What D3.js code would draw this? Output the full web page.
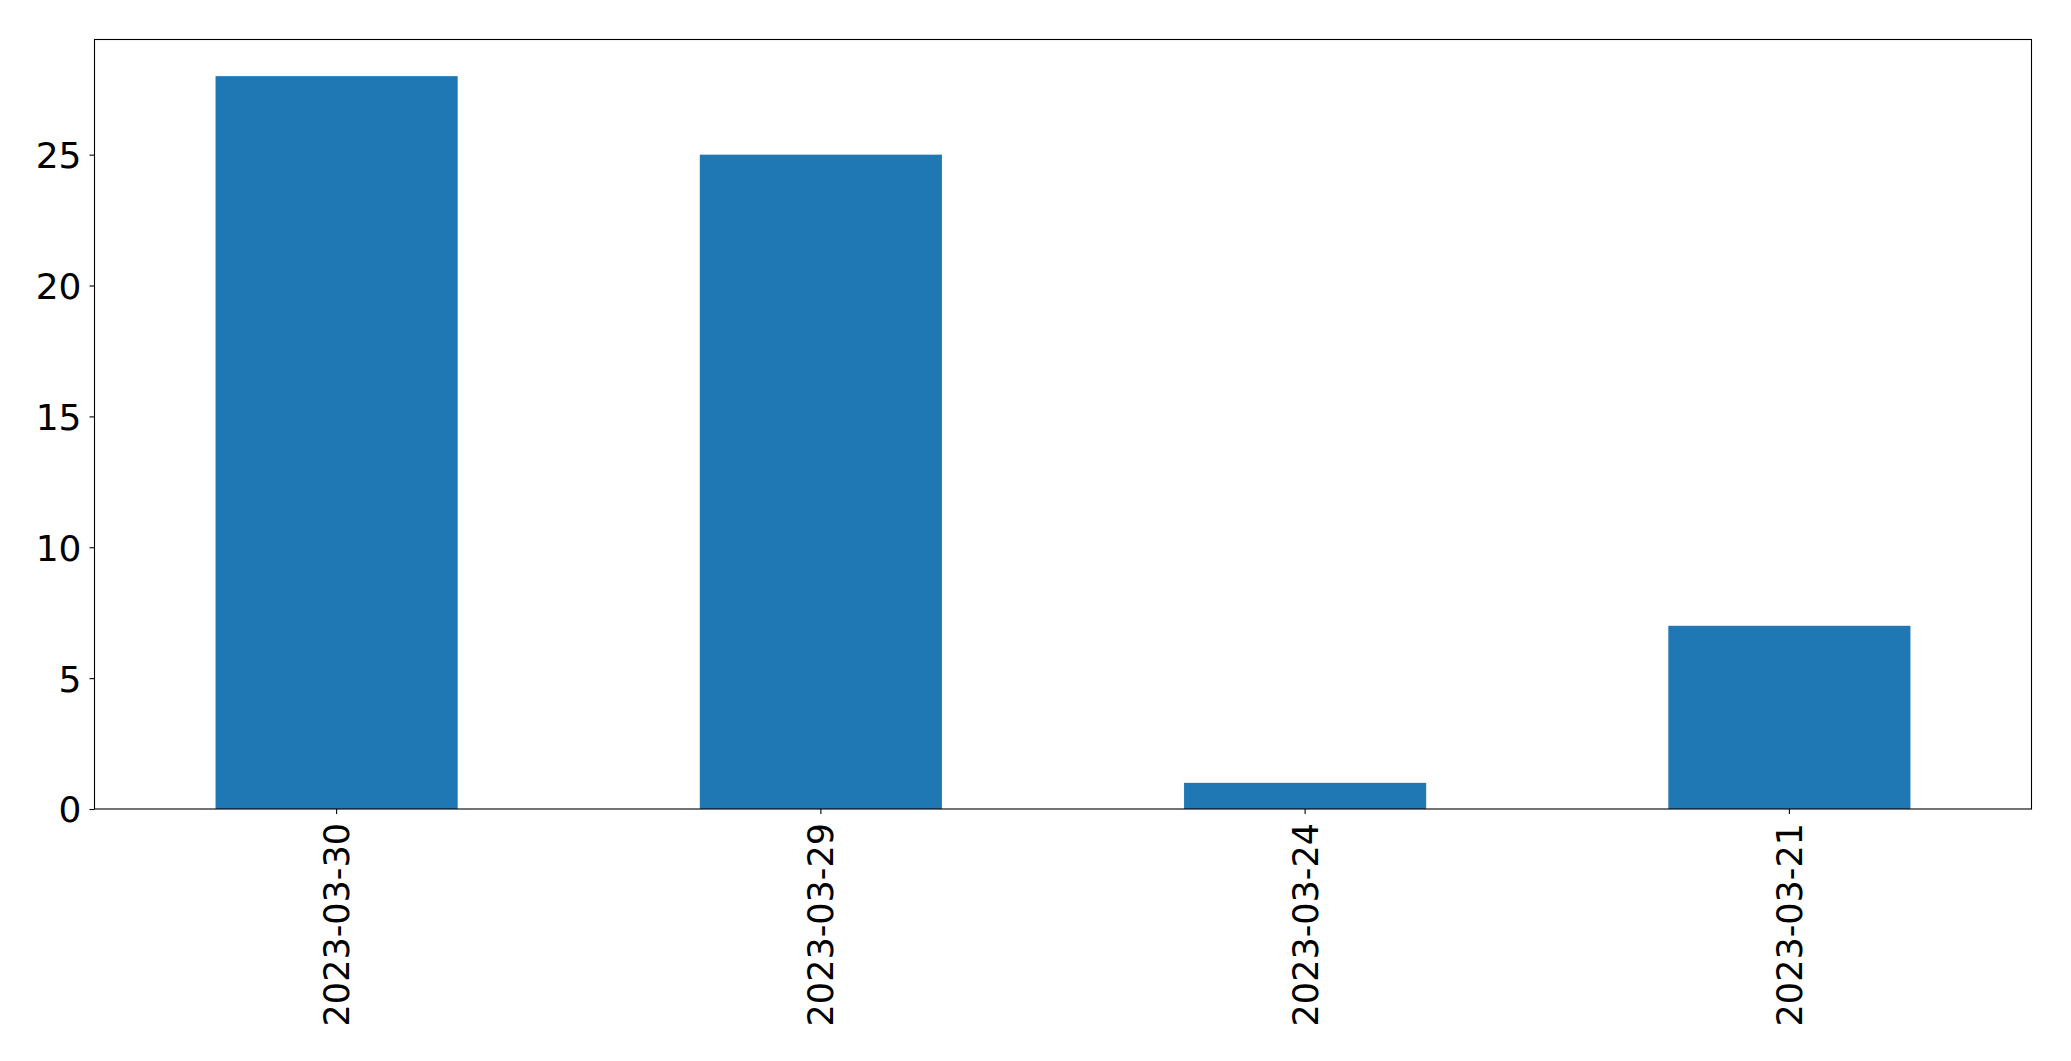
<!DOCTYPE html>
<html>
<head>
<meta charset="utf-8">
<script src="https://cdn.jsdelivr.net/npm/d3@7"></script>
<style>
  html, body { margin: 0; padding: 0; background: #fff; }
  svg { display: block; }
  text { font-family: "DejaVu Sans", sans-serif; fill: #000; }
</style>
</head>
<body>
<svg id="chart" width="2071" height="1061"></svg>
<script>
const categories = ["2023-03-30", "2023-03-29", "2023-03-24", "2023-03-21"];
const values = [28, 25, 1, 7];
const yTicks = [0, 5, 10, 15, 20, 25];

const W = 2071, H = 1061;
const m = { left: 94.5, right: W - 2031.5, top: 39.5, bottom: H - 809 };
const iw = W - m.left - m.right, ih = H - m.top - m.bottom;

const svg = d3.select("#chart");
const g = svg.append("g").attr("transform", `translate(${m.left},${m.top})`);

const x = d3.scaleBand().domain(categories).range([0, iw]).paddingInner(0.5).paddingOuter(0.25);
const y = d3.scaleLinear().domain([0, d3.max(values) * 1.05]).range([ih, 0]);

g.selectAll("rect.bar").data(values).enter().append("rect")
  .attr("class", "bar")
  .attr("x", (d, i) => x(categories[i]))
  .attr("width", x.bandwidth())
  .attr("y", d => y(d))
  .attr("height", d => ih - y(d))
  .attr("fill", "#1f77b4");

const yAxis = g.append("g").call(d3.axisLeft(y).tickValues(yTicks).tickSize(5).tickPadding(8).tickFormat(d3.format("d")));
yAxis.select(".domain").remove();
yAxis.selectAll("text").style("font-size", "36px").attr("dy", "0.36em");
yAxis.selectAll("line").attr("stroke", "#000").attr("stroke-width", 1.1);

const xAxis = g.append("g").attr("transform", `translate(0,${ih})`)
  .call(d3.axisBottom(x).tickSize(5).tickPadding(10));
xAxis.select(".domain").remove();
xAxis.selectAll("line").attr("stroke", "#000").attr("stroke-width", 1.1);
xAxis.selectAll("text")
  .style("font-size", "35px")
  .attr("text-anchor", "end")
  .attr("dy", "0.36em")
  .attr("x", 0)
  .attr("y", 0)
  .attr("transform", "translate(0,14) rotate(-90)");

g.append("rect").attr("x", 0).attr("y", 0).attr("width", iw).attr("height", ih)
  .attr("fill", "none").attr("stroke", "#000").attr("stroke-width", 1.1);
</script>
</body>
</html>
